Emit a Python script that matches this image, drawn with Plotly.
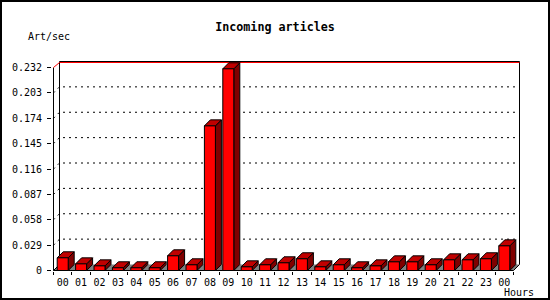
import plotly.graph_objects as go

# ---------------- data ----------------
hours = ["00", "01", "02", "03", "04", "05", "06", "07", "08", "09", "10", "11",
         "12", "13", "14", "15", "16", "17", "18", "19", "20", "21", "22", "23", "00"]
articles_per_sec = [0.0145, 0.0076, 0.0053, 0.0031, 0.0031, 0.0031, 0.0168, 0.0065,
                    0.1653, 0.2305, 0.0042, 0.0065, 0.0088, 0.0134, 0.0042, 0.0065,
                    0.0031, 0.0053, 0.0099, 0.0099, 0.0065, 0.0122, 0.0122, 0.0134,
                    0.0282]
y_ticks = [0, 0.029, 0.058, 0.087, 0.116, 0.145, 0.174, 0.203, 0.232]
y_tick_text = ["0", "0.029", "0.058", "0.087", "0.116", "0.145", "0.174", "0.203", "0.232"]

# ---------------- style / geometry ----------------
W, H = 550, 300
ML, MR, MT, MB = 52, 28, 59, 29
PW, PH = W - ML - MR, H - MT - MB
DEPTH = 6          # px, 3-D offset
BAR_W = 11         # px, front face width
PAD_LO, PAD_HI = 1.5, 2.5
n = len(hours)
ymax = y_ticks[-1]
S = (PW - PAD_LO - DEPTH - PAD_HI) / n           # px per slot
K = (PH - 0.5 - DEPTH - PAD_HI) / ymax           # px per unit
dx, dy = DEPTH / S, DEPTH / K
bw = BAR_W / S
xr = [-PAD_LO / S, n + (DEPTH + PAD_HI) / S]
yr = [-0.5 / K, ymax + (DEPTH + PAD_HI) / K]

FRONT, TOP, SIDE, FLOOR = "#FF0000", "#C00000", "#800000", "#808080"
FONT = "DejaVu Sans Mono"


def polys(shapes):
    xs, ys = [], []
    for pts in shapes:
        for (x, y) in pts + [pts[0]]:
            xs.append(x)
            ys.append(y)
        xs.append(None)
        ys.append(None)
    return xs, ys


def lines(segs):
    xs, ys = [], []
    for pts in segs:
        for (x, y) in pts:
            xs.append(x)
            ys.append(y)
        xs.append(None)
        ys.append(None)
    return xs, ys


fig = go.Figure()

# back wall
bx, by = polys([[(dx, dy), (n + dx, dy), (n + dx, ymax + dy), (dx, ymax + dy)]])
fig.add_trace(go.Scatter(x=bx, y=by, fill="toself", fillcolor="white", mode="lines",
                         line=dict(width=0), hoverinfo="skip"))

# dotted grid lines (diagonal + back wall)
gx, gy = lines([[(0, v), (dx, v + dy), (n + dx, v + dy)] for v in y_ticks[1:-1]])
fig.add_trace(go.Scatter(x=gx, y=gy, mode="lines",
                         line=dict(color="black", width=1, dash="2px,4px"), hoverinfo="skip"))

# floor
fx, fy = polys([[(0, 0), (n, 0), (n + dx, dy), (dx, dy)]])
fig.add_trace(go.Scatter(x=fx, y=fy, fill="toself", fillcolor=FLOOR, mode="lines",
                         line=dict(width=0), hoverinfo="skip"))

# frame lines
lx, ly = lines([
    [(dx, dy), (dx, ymax + dy), (n + dx, ymax + dy), (n + dx, dy)],
    [(0, ymax), (0, 0), (n, 0), (n + dx, dy)],
    [(0, 0), (dx, dy)],
])
fig.add_trace(go.Scatter(x=lx, y=ly, mode="lines", line=dict(color="black", width=1),
                         hoverinfo="skip"))
rx, ry = lines([[(0, ymax), (dx, ymax + dy - 1 / K), (n + dx, ymax + dy - 1 / K)]])
fig.add_trace(go.Scatter(x=rx, y=ry, mode="lines", line=dict(color="red", width=1),
                         hoverinfo="skip"))

# 3-D bars
fronts, tops, sides = [], [], []
for i, v in enumerate(articles_per_sec):
    x0 = i + 0.5 - bw / 2
    x1 = x0 + bw
    fronts.append([(x0, 0), (x1, 0), (x1, v), (x0, v)])
    tops.append([(x0, v), (x1, v), (x1 + dx, v + dy), (x0 + dx, v + dy)])
    sides.append([(x1, 0), (x1 + dx, dy), (x1 + dx, v + dy), (x1, v)])
for shapes, col in ((sides, SIDE), (tops, TOP), (fronts, FRONT)):
    px, py = polys(shapes)
    fig.add_trace(go.Scatter(x=px, y=py, fill="toself", fillcolor=col, mode="lines",
                             line=dict(color="black", width=1), hoverinfo="skip"))

fig.update_layout(
    width=W, height=H,
    margin=dict(l=ML, r=MR, t=MT, b=MB, pad=0),
    paper_bgcolor="white", plot_bgcolor="white",
    showlegend=False,
    font=dict(family=FONT, size=10, color="black"),
    title=dict(text="<b>Incoming articles</b>", x=0.5, xanchor="center",
               y=1 - 27 / H, yanchor="middle", yref="container",
               font=dict(family=FONT, size=11.7, color="black")),
    xaxis=dict(range=xr, tickmode="array", tickvals=[i + 0.5 for i in range(n)],
               ticktext=hours, ticks="", showgrid=False, zeroline=False, showline=False,
               fixedrange=True, ticklabelstandoff=4,
               minor=dict(tickmode="array", tickvals=list(range(n + 1)), ticks="outside",
                          ticklen=3, tickcolor="black", tickwidth=1, showgrid=False)),
    yaxis=dict(range=yr, tickmode="array", tickvals=y_ticks, ticktext=y_tick_text,
               ticks="outside", ticklen=4, tickcolor="black", tickwidth=1,
               ticklabelstandoff=3,
               showgrid=False, zeroline=False, showline=False, fixedrange=True),
    annotations=[
        dict(text="Art/sec", xref="paper", yref="paper", x=(49 - ML) / PW,
             y=(H - MB - 37) / PH, showarrow=False, xanchor="center", yanchor="middle"),
        dict(text="Hours", xref="paper", yref="paper", x=(519 - ML) / PW,
             y=(H - MB - 292) / PH, showarrow=False, xanchor="center", yanchor="middle"),
    ],
    shapes=[dict(type="rect", xref="paper", yref="paper",
                 x0=(1 - ML) / PW, x1=(W - 1 - ML) / PW,
                 y0=(H - MB - (H - 1)) / PH, y1=(H - MB - 1) / PH,
                 line=dict(color="black", width=2), fillcolor="rgba(0,0,0,0)")],
)

fig.write_html("out.html")
